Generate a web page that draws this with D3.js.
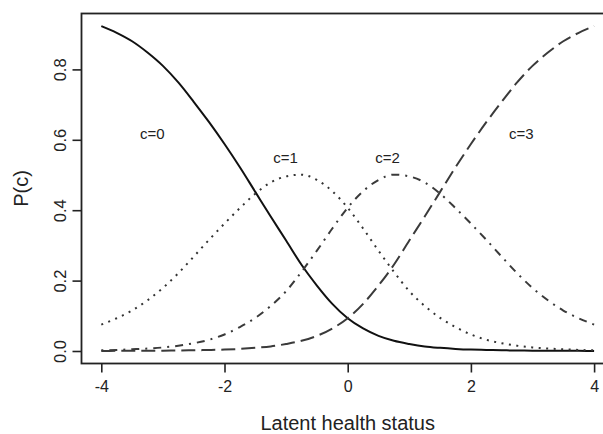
<!DOCTYPE html>
<html>
<head>
<meta charset="utf-8">
<script src="https://cdn.jsdelivr.net/npm/d3@7"></script>
<style>
  body { margin: 0; background: #fff; }
  text { font-family: "Liberation Sans", Arial, sans-serif; fill: #222; }
</style>
</head>
<body>
<svg id="chart" width="603" height="434"></svg>
<script>
// latent health status grid
var xVals = [-4, -3.75, -3.5, -3.25, -3, -2.75, -2.5, -2.25, -2, -1.75, -1.5, -1.25, -1, -0.75, -0.5, -0.25,
  0, 0.25, 0.5, 0.75, 1, 1.25, 1.5, 1.75, 2, 2.25, 2.5, 2.75, 3, 3.25, 3.5, 3.75, 4];

// P(c) for each category
var p0 = [0.923, 0.904, 0.880, 0.848, 0.810, 0.763, 0.708, 0.650, 0.588, 0.522, 0.452, 0.382, 0.314, 0.245, 0.186, 0.134,
  0.093, 0.064, 0.043, 0.029, 0.020, 0.013, 0.009, 0.006, 0.004, 0.003, 0.002, 0.0015, 0.001, 0.0008, 0.0006, 0.0004, 0.0003];
var p1 = [0.075, 0.093, 0.115, 0.144, 0.179, 0.221, 0.268, 0.316, 0.362, 0.406, 0.447, 0.479, 0.496, 0.501, 0.486, 0.454,
  0.407, 0.348, 0.285, 0.225, 0.170, 0.128, 0.094, 0.068, 0.047, 0.032, 0.022, 0.015, 0.010, 0.007, 0.005, 0.003, 0.002];
var p2 = [0.002, 0.003, 0.005, 0.007, 0.010, 0.015, 0.022, 0.032, 0.047, 0.068, 0.094, 0.128, 0.170, 0.225, 0.285, 0.348,
  0.407, 0.454, 0.486, 0.501, 0.496, 0.479, 0.447, 0.406, 0.362, 0.316, 0.268, 0.221, 0.179, 0.144, 0.115, 0.093, 0.075];
var p3 = [0.0003, 0.0004, 0.0006, 0.0008, 0.001, 0.0015, 0.002, 0.003, 0.004, 0.006, 0.009, 0.013, 0.020, 0.029, 0.043, 0.064,
  0.093, 0.134, 0.186, 0.245, 0.314, 0.382, 0.452, 0.522, 0.588, 0.650, 0.708, 0.763, 0.810, 0.848, 0.880, 0.904, 0.923];

// curve labels and where they sit (data units)
var catLabels = ["c=0", "c=1", "c=2", "c=3"];
var labelX = [-3.17, -1.01, 0.645, 2.82];
var labelY = [0.618, 0.55, 0.55, 0.618];

var xTicks = [-4, -2, 0, 2, 4];
var xTickLabels = ["-4", "-2", "0", "2", "4"];
var yTicks = [0, 0.2, 0.4, 0.6, 0.8];
var yTickLabels = ["0.0", "0.2", "0.4", "0.6", "0.8"];

var svg = d3.select("#chart");

var x = d3.scaleLinear().domain([-4, 4]).range([101.3, 594.1]);
var y = d3.scaleLinear().domain([0, 1]).range([351, -1]);

// plot box (R style, extends past the right edge)
var box = { left: 81.5, top: 13.5, right: 614, bottom: 363.5 };
svg.append("rect")
  .attr("x", box.left).attr("y", box.top)
  .attr("width", box.right - box.left).attr("height", box.bottom - box.top)
  .attr("fill", "none").attr("stroke", "#222").attr("stroke-width", 1.8);

// x axis ticks
var xAxis = svg.append("g").attr("transform", "translate(0," + box.bottom + ")")
  .call(d3.axisBottom(x).tickValues(xTicks).tickSize(9).tickPadding(8)
    .tickFormat(function(d, i) { return xTickLabels[i]; }));
xAxis.select(".domain").remove();
xAxis.selectAll("line").attr("stroke", "#222").attr("stroke-width", 1.6);
xAxis.selectAll("text").attr("font-size", 16).attr("fill", "#222")
  .attr("font-family", "Liberation Sans, Arial, sans-serif");

// y axis ticks, labels parallel to the axis
var yAxis = svg.append("g").attr("transform", "translate(" + box.left + ",0)")
  .call(d3.axisLeft(y).tickValues(yTicks).tickSize(9)
    .tickFormat(function(d, i) { return yTickLabels[i]; }));
yAxis.select(".domain").remove();
yAxis.selectAll("line").attr("stroke", "#222").attr("stroke-width", 1.6);
yAxis.selectAll("text")
  .attr("font-size", 16.5).attr("fill", "#222")
  .attr("font-family", "Liberation Sans, Arial, sans-serif")
  .attr("x", null).attr("dy", null)
  .attr("text-anchor", "middle")
  .attr("transform", "translate(-16,0) rotate(-90)");

// axis titles
svg.append("text")
  .attr("x", x(0)).attr("y", 430)
  .attr("text-anchor", "middle").attr("font-size", 20)
  .text("Latent health status");

svg.append("text")
  .attr("transform", "translate(28," + ((box.top + box.bottom) / 2) + ") rotate(-90)")
  .attr("text-anchor", "middle").attr("font-size", 20)
  .text("P(c)");

// curves
var series = [p0, p1, p2, p3];
var dashes = ["none", "2,5.5", "2,6,8,6", "14,6"];
var colors = ["#111", "#333", "#3a3a3a", "#3a3a3a"];

var line = d3.line()
  .x(function(d, i) { return x(xVals[i]); })
  .y(function(d) { return y(d); })
  .curve(d3.curveMonotoneX);

svg.selectAll("path.curve")
  .data(series)
  .enter()
  .append("path")
  .attr("class", "curve")
  .attr("d", function(d) { return line(d); })
  .attr("fill", "none")
  .attr("stroke", function(d, i) { return colors[i]; })
  .attr("stroke-width", 2)
  .attr("stroke-dasharray", function(d, i) { return dashes[i]; });

// category labels
svg.selectAll("text.cat")
  .data(catLabels)
  .enter()
  .append("text")
  .attr("class", "cat")
  .attr("x", function(d, i) { return x(labelX[i]); })
  .attr("y", function(d, i) { return y(labelY[i]); })
  .attr("dy", "0.35em")
  .attr("text-anchor", "middle")
  .attr("font-size", 15)
  .text(function(d) { return d; });
</script>
</body>
</html>
